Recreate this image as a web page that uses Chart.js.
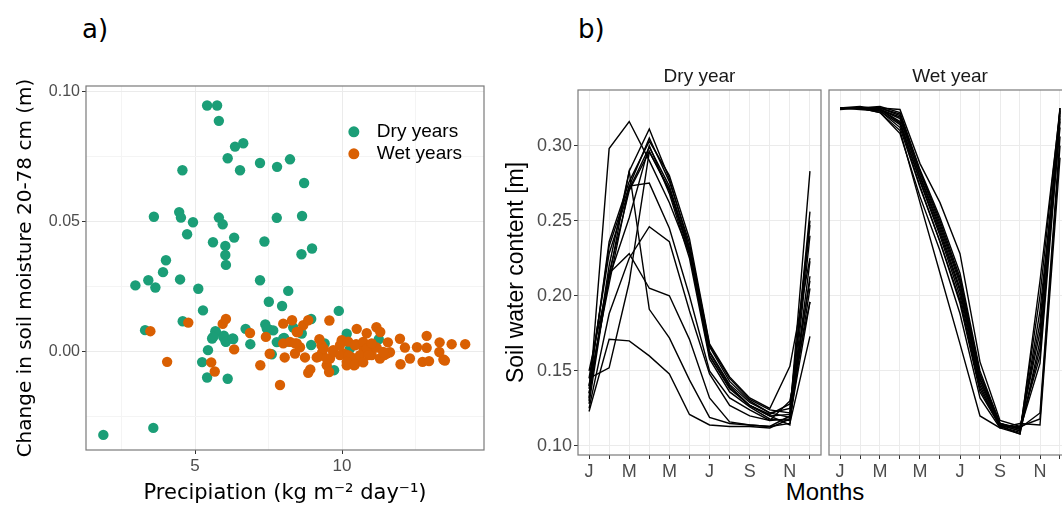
<!DOCTYPE html>
<html>
<head>
<meta charset="utf-8">
<script src="https://cdn.jsdelivr.net/npm/chart.js@4.4.1/dist/chart.umd.min.js"></script>
<style>
  html, body { margin: 0; padding: 0; background: #fff; overflow: hidden; }
  body { width: 1062px; height: 512px; position: relative; }
  .box { position: absolute; top: 0; height: 512px; }
  .lbl { position: absolute; color: #000; white-space: nowrap; line-height: 1; }
</style>
</head>
<body>
<div class="lbl" style="left:82px;top:14px;font:26px 'DejaVu Sans'">a)</div>
<div class="lbl" style="left:578px;top:14px;font:26px 'DejaVu Sans'">b)</div>
<div class="lbl" style="left:825px;top:478px;transform:translateX(-50%);font:24px 'Liberation Sans'">Months</div>
<div class="box" style="left:0;width:500px"><canvas id="chartA"></canvas></div>
<div class="box" style="left:500px;width:325px"><canvas id="chartDry"></canvas></div>
<div class="box" style="left:825px;width:260px"><canvas id="chartWet"></canvas></div>
<script>
// precipitation (kg m-2 day-1) vs change in soil moisture 20-78 cm (m)
const dryPrecip = [5.41,5.75,5.81,6.36,6.64,6.11,4.57,6.53,7.21,7.79,8.23,3.60,4.46,4.52,4.93,5.81,5.94,7.78,4.73,5.61,
  6.03,6.33,7.36,6.03,6.05,4.01,3.91,3.41,4.49,7.21,8.71,8.64,8.98,8.62,2.97,3.65,5.11,5.27,7.51,7.96,
  8.17,4.58,3.30,5.69,5.58,5.98,6.04,6.30,6.72,6.88,7.39,7.53,7.66,7.78,8.03,7.61,5.44,5.24,5.41,6.11,
  1.88,3.58,9.89,8.95,8.63,8.00,8.14,8.95,9.41,10.16,10.27,11.25,9.73,8.34,5.71,5.62,5.96,6.05,6.28,7.44];
const dryChange = [0.0945,0.0945,0.0886,0.0787,0.0800,0.0742,0.0696,0.0696,0.0724,0.0709,0.0738,0.0517,0.0535,0.0514,0.0496,0.0514,0.0488,0.0513,0.0450,0.0419,
  0.0405,0.0437,0.0422,0.0370,0.0332,0.0350,0.0304,0.0273,0.0276,0.0273,0.0647,0.0520,0.0395,0.0373,0.0253,0.0245,0.0240,0.0157,0.0190,0.0174,
  0.0232,0.0115,0.0081,0.0077,0.0049,0.0060,0.0038,0.0047,0.0086,0.0027,0.0103,0.0083,0.0080,0.0035,0.0051,-0.0012,0.0004,-0.0042,-0.0101,-0.0106,
  -0.0322,-0.0295,0.0155,0.0124,0.0068,0.0049,0.0037,0.0024,0.0030,0.0067,0.0010,0.0046,-0.0073,0.0091,0.0074,0.0055,0.0055,0.0036,0.0049,0.0087];
const wetPrecip = [3.48,4.77,4.05,5.94,6.05,6.33,5.55,5.67,6.87,7.41,7.54,7.22,7.89,8.00,8.05,8.00,8.30,8.68,8.46,8.85,
  9.57,10.50,10.84,11.17,11.30,9.23,9.99,10.21,10.48,10.73,10.93,11.56,11.63,11.97,12.88,13.32,13.73,14.19,12.14,12.55,
  12.88,11.99,12.31,12.74,12.96,13.45,13.31,13.50,11.01,11.29,11.52,11.44,8.40,8.74,9.14,9.32,9.59,9.70,9.48,9.56,
  8.85,8.92,10.16,10.41,10.61,10.05,10.33,9.30,9.38,8.46,8.57,9.93,11.18,8.23,8.40,8.50,10.44,10.72,10.84,11.01,
  11.40,9.70,9.93,10.21,10.61,10.90,10.16,10.44,10.72,9.19,9.48];
const wetChange = [0.0077,0.0110,-0.0041,0.0105,0.0124,0.0007,-0.0043,-0.0078,0.0070,0.0055,-0.0010,-0.0054,-0.0130,0.0106,-0.0024,0.0030,0.0119,0.0100,0.0074,0.0119,
  0.0118,0.0086,0.0069,0.0092,0.0074,0.0046,0.0042,0.0037,0.0027,0.0010,0.0004,0.0034,-0.0004,0.0048,0.0059,0.0034,0.0027,0.0027,0.0014,0.0015,
  0.0013,-0.0050,-0.0028,-0.0041,-0.0038,-0.0032,-0.0003,-0.0036,-0.0015,-0.0028,-0.0009,-0.0015,-0.0009,-0.0024,-0.0024,-0.0006,-0.0028,0.0004,-0.0054,-0.0080,
  -0.0083,-0.0070,-0.0054,-0.0054,-0.0037,-0.0009,-0.0024,0.0023,0.0010,0.0030,0.0015,0.0023,0.0014,0.0036,0.0030,0.0074,0.0023,0.0036,0.0010,0.0030,
  -0.0003,-0.0003,-0.0015,-0.0015,-0.0015,-0.0015,-0.0041,-0.0051,-0.0043,-0.0022,-0.0028];

// monthly soil water content (m), one row per year
const months = [1,2,3,4,5,6,7,8,9,10,11,12];
const monthLabels = ['J','','M','','M','','J','','S','','N',''];
const drySoilWater = [
  [.130,.298,.316,.290,.262,.228,.162,.140,.127,.121,.128,.210],
  [.135,.212,.283,.311,.278,.232,.166,.143,.130,.122,.125,.250],
  [.140,.233,.273,.305,.276,.235,.167,.145,.131,.124,.122,.256],
  [.145,.228,.271,.299,.273,.231,.163,.141,.129,.122,.119,.247],
  [.128,.215,.270,.296,.270,.228,.160,.138,.127,.120,.121,.283],
  [.150,.212,.252,.300,.268,.225,.158,.136,.126,.118,.117,.223],
  [.140,.208,.273,.275,.245,.200,.150,.132,.124,.117,.118,.196],
  [.125,.188,.225,.246,.236,.190,.148,.127,.120,.117,.130,.196],
  [.132,.220,.283,.191,.172,.144,.119,.115,.114,.113,.115,.173],
  [.123,.171,.170,.160,.148,.121,.114,.113,.113,.112,.118,.205],
  [.135,.215,.228,.205,.200,.171,.132,.116,.114,.113,.120,.213],
  [.145,.152,.209,.296,.271,.230,.160,.139,.127,.120,.114,.240],
  [.138,.236,.276,.303,.280,.238,.168,.146,.132,.125,.153,.225]
];
const wetSoilWater = [
  [.325,.325,.325,.324,.288,.262,.228,.156,.117,.113,.160,.325],
  [.325,.325,.326,.322,.284,.252,.215,.150,.115,.111,.182,.322],
  [.325,.325,.324,.318,.280,.246,.208,.145,.114,.110,.200,.325],
  [.325,.326,.324,.315,.276,.240,.200,.140,.113,.108,.210,.323],
  [.325,.325,.323,.312,.272,.236,.195,.136,.113,.109,.190,.318],
  [.324,.325,.322,.308,.266,.230,.188,.132,.112,.108,.170,.312],
  [.325,.325,.325,.320,.282,.248,.210,.147,.115,.111,.155,.316],
  [.325,.325,.324,.316,.277,.242,.203,.142,.114,.112,.122,.306],
  [.325,.324,.323,.314,.273,.236,.197,.138,.113,.113,.118,.300],
  [.325,.325,.322,.310,.262,.215,.168,.120,.112,.115,.114,.292],
  [.325,.325,.324,.319,.279,.244,.205,.144,.114,.110,.165,.320],
  [.325,.325,.325,.321,.283,.250,.212,.148,.115,.112,.176,.324]
];

const SANS = 'Liberation Sans';
const GRID = '#ebebeb';
const GRID_MINOR = '#f4f4f4';
const TICK = '#333333';
const TEXT = '#4d4d4d';
const GREEN = '#1b9e77';
const ORANGE = '#d95f02';

const isMajor = (v, step) => Math.abs(Math.round(v / step) * step - v) < 1e-9;

// grey box round the plotting panel
const frame = {
  id: 'frame',
  afterDatasetsDraw(chart) {
    const a = chart.chartArea, c = chart.ctx;
    c.save();
    c.strokeStyle = '#7a7a7a';
    c.lineWidth = 1.2;
    c.strokeRect(a.left, a.top, a.right - a.left, a.bottom - a.top);
    c.restore();
  }
};

// facet label above the panel
const strip = {
  id: 'strip',
  afterDraw(chart, args, opts) {
    if (!opts.text) return;
    const a = chart.chartArea, c = chart.ctx;
    c.save();
    c.fillStyle = '#1a1a1a';
    c.font = '19px ' + SANS;
    c.textAlign = 'center';
    c.textBaseline = 'middle';
    c.fillText(opts.text, (a.left + a.right) / 2, a.top - 13);
    c.restore();
  }
};

// legend placed inside the scatter panel
const insideLegend = {
  id: 'insideLegend',
  afterDraw(chart) {
    const a = chart.chartArea, c = chart.ctx;
    const x = a.left + 0.673 * (a.right - a.left);
    let y = a.top + 0.126 * (a.bottom - a.top);
    c.save();
    c.font = '19px ' + SANS;
    c.textBaseline = 'middle';
    chart.data.datasets.slice().sort((p, q) => p.legendRank - q.legendRank).forEach(ds => {
      c.fillStyle = ds.backgroundColor;
      c.beginPath();
      c.arc(x, y, 5.5, 0, Math.PI * 2);
      c.fill();
      c.fillStyle = '#000';
      c.fillText(ds.label, x + 23, y);
      y += 22;
    });
    c.restore();
  }
};

const toPoints = (xs, ys) => xs.map((x, i) => ({ x, y: ys[i] }));

new Chart(document.getElementById('chartA'), {
  type: 'scatter',
  data: {
    datasets: [
      { label: 'Dry years', legendRank: 0, order: 1, data: toPoints(dryPrecip, dryChange),
        backgroundColor: GREEN, borderWidth: 0, pointRadius: 5.2 },
      { label: 'Wet years', legendRank: 1, order: 0, data: toPoints(wetPrecip, wetChange),
        backgroundColor: ORANGE, borderWidth: 0, pointRadius: 5.2 }
    ]
  },
  options: {
    responsive: true, maintainAspectRatio: false, animation: false,
    layout: { padding: { top: 86, right: 16, left: 0, bottom: 0 } },
    plugins: { legend: { display: false }, tooltip: { enabled: false } },
    scales: {
      x: {
        type: 'linear', min: 1.29, max: 14.83,
        afterBuildTicks: s => { s.ticks = [2.5, 5, 7.5, 10, 12.5].map(value => ({ value })); },
        afterFit: s => { s.height = 62; },
        ticks: { autoSkip: false, maxRotation: 0, padding: 2, color: TEXT, font: { family: SANS, size: 17 },
          callback: v => isMajor(v, 5) ? String(v) : '' },
        grid: { color: c => isMajor(c.tick.value, 5) ? GRID : GRID_MINOR, tickLength: 4,
          tickColor: c => isMajor(c.tick.value, 5) ? TICK : 'rgba(0,0,0,0)' },
        border: { display: false },
        title: { display: true, text: 'Precipiation (kg m\u207B\u00B2 day\u207B\u00B9)', color: '#000',
          font: { family: 'DejaVu Sans', size: 21 }, padding: { top: 0, bottom: 6 } }
      },
      y: {
        type: 'linear', min: -0.038, max: 0.102,
        afterBuildTicks: s => { s.ticks = [-0.025, 0, 0.025, 0.05, 0.075, 0.1].map(value => ({ value })); },
        afterFit: s => { s.width = 86; },
        ticks: { autoSkip: false, padding: 2, color: TEXT, font: { family: SANS, size: 16 },
          callback: v => isMajor(v, 0.05) ? v.toFixed(2) : '' },
        grid: { color: c => isMajor(c.tick.value, 0.05) ? GRID : GRID_MINOR, tickLength: 4,
          tickColor: c => isMajor(c.tick.value, 0.05) ? TICK : 'rgba(0,0,0,0)' },
        border: { display: false },
        title: { display: true, text: 'Change in soil moisture 20-78 cm (m)', color: '#000',
          font: { family: 'DejaVu Sans', size: 20 }, padding: { top: 14, bottom: 0 } }
      }
    }
  },
  plugins: [frame, insideLegend]
});

function monthChart(id, rows, label, showY, pad) {
  return new Chart(document.getElementById(id), {
    type: 'line',
    data: {
      labels: months,
      datasets: rows.map(r => ({
        data: r.map((v, i) => ({ x: months[i], y: v })),
        borderColor: '#000', borderWidth: 1.4, pointRadius: 0, tension: 0, fill: false
      }))
    },
    options: {
      responsive: true, maintainAspectRatio: false, animation: false,
      layout: { padding: pad },
      plugins: { legend: { display: false }, tooltip: { enabled: false }, strip: { text: label } },
      scales: {
        x: {
          type: 'linear', min: 0.45, max: 12.55,
          afterBuildTicks: s => { s.ticks = months.map(value => ({ value })); },
          afterFit: s => { s.height = 57; },
          ticks: { autoSkip: false, maxRotation: 0, padding: 2, color: TEXT, font: { family: SANS, size: 18 },
            callback: (v, i) => monthLabels[i] },
          grid: { color: GRID, tickLength: 4, tickColor: TICK },
          border: { display: false }
        },
        y: {
          type: 'linear', min: 0.094, max: 0.337,
          afterBuildTicks: s => { s.ticks = [0.10, 0.15, 0.20, 0.25, 0.30].map(value => ({ value })); },
          afterFit: s => { s.width = showY ? 78 : 0; },
          ticks: { display: showY, autoSkip: false, padding: 2, color: TEXT, font: { family: SANS, size: 18 },
            callback: v => v.toFixed(2) },
          grid: { color: GRID, drawTicks: showY, tickLength: 4, tickColor: TICK },
          border: { display: false },
          title: { display: showY, text: 'Soil water content [m]', color: '#000',
            font: { family: SANS, size: 23 }, padding: { top: 3, bottom: 0 } }
        }
      }
    },
    plugins: [frame, strip]
  });
}

monthChart('chartDry', drySoilWater, 'Dry year', true, { top: 90, right: 4, left: 0, bottom: 0 });
monthChart('chartWet', wetSoilWater, 'Wet year', false, { top: 90, right: 14, left: 4, bottom: 0 });
</script>
</body>
</html>
